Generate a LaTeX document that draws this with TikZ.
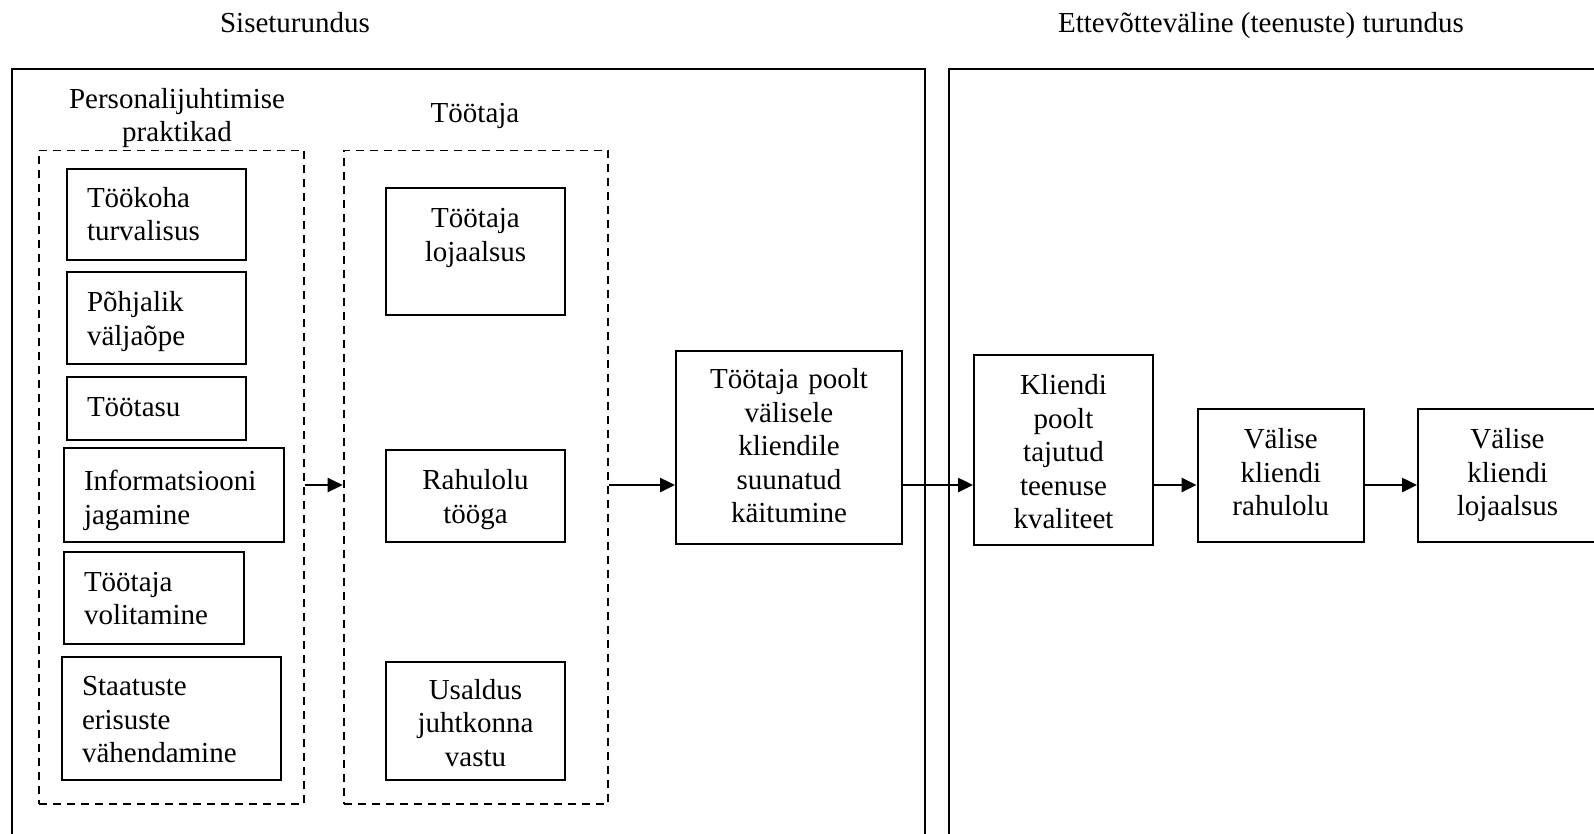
\documentclass[tikz,border=0pt]{standalone}
\usepackage{fontspec}
\setmainfont{Liberation Serif}
\usetikzlibrary{arrows.meta}
\newlength{\tdrop}
\begin{document}
\begin{tikzpicture}[x=1pt,y=-1pt,
  every node/.style={font=\fontsize{29}{33.5}\selectfont},
  drop/.code={\setlength{\tdrop}{#1}},
  drop=8pt,
  % extra room above the first line pushes the text block downward
  topstrut/.style={execute at begin node={\rule{0pt}{\dimexpr\ht\strutbox+\tdrop\relax}},
    execute at end node=\strut},
  box/.style={draw, line width=2pt, align=center, inner sep=0pt, topstrut},
  lbox/.style={draw, line width=2pt, align=left, inner xsep=20pt, inner ysep=0pt, topstrut},
  grp/.style={draw, dash pattern=on 8pt off 6pt, line width=1.8pt, inner sep=0pt},
  frame/.style={line width=2pt},
  arr/.style={line width=2.5pt, -{Triangle[length=15pt,width=14pt]}},
  ttl/.style={align=center, inner sep=0pt}]
\useasboundingbox (0,0) rectangle (1594,833);
\clip (0,0) rectangle (1594,833);

% section frames (open at the bottom)
\draw[frame] (12,845) -- (12,69) -- (925,69) -- (925,845);
\draw[frame] (949,845) -- (949,69) -- (1610,69);

% section titles
\node[ttl, anchor=base] (tin) at (295,32) {Siseturundus};
\node[ttl, anchor=base] (tout) at (1261,32) {Ettevõtteväline (teenuste) turundus};

% group titles
\node[ttl] (thr) at (177,118) {Personalijuhtimise\\praktikad};
\node[ttl] (temp) at (475,116) {Töötaja};

% dashed groups
\node[grp, minimum width=265.4pt, minimum height=653.5pt] (g1) at (171.3,477.25) {};
\node[grp, minimum width=264.4pt, minimum height=653.5pt] (g2) at (475.8,477.25) {};

% HR practices
\node[lbox, drop=6pt, minimum width=179pt, text width=139pt, minimum height=91pt] (p1) at (156.5,214.5) {Töökoha\\turvalisus};
\node[lbox, drop=8pt, minimum width=179pt, text width=139pt, minimum height=92pt] (p2) at (156.5,318) {Põhjalik\\väljaõpe};
\node[lbox, drop=2pt, minimum width=179pt, text width=139pt, minimum height=63pt] (p3) at (156.5,408.5) {Töötasu};
\node[lbox, drop=12pt, minimum width=219.6pt, text width=179.6pt, minimum height=94pt] (p4) at (173.8,495) {Informatsiooni\\jagamine};
\node[lbox, drop=7pt, minimum width=180pt, text width=140pt, minimum height=92.5pt] (p5) at (154,598) {Töötaja\\volitamine};
\node[lbox, drop=8pt, minimum width=218.6pt, text width=178.6pt, minimum height=123pt] (p6) at (171.3,718.5) {Staatuste\\erisuste\\vähendamine};

% employee outcomes
\node[box, drop=6pt, text width=179pt, minimum height=127pt] (e1) at (475.5,251.5) {Töötaja\\lojaalsus\\\mbox{}};
\node[box, drop=8pt, text width=179pt, minimum height=92pt] (e2) at (475.5,496) {Rahulolu\\tööga};
\node[box, drop=10pt, text width=179pt, minimum height=118pt] (e3) at (475.5,721) {Usaldus\\juhtkonna\\vastu};

% behaviour and customer chain
\node[box, drop=3pt, text width=226pt, minimum height=193pt] (beh) at (789,447.5) {Töötaja poolt\\välisele\\kliendile\\suunatud\\käitumine};
\node[box, drop=10pt, text width=179pt, minimum height=190pt] (kval) at (1063.5,450) {Kliendi\\poolt\\tajutud\\teenuse\\kvaliteet};
\node[box, drop=0pt, text width=166.4pt, minimum height=133pt] (rah) at (1280.8,475.5) {Välise\\kliendi\\rahulolu};
\node[box, drop=0pt, text width=179pt, minimum height=133pt] (loj) at (1507.5,475.5) {Välise\\kliendi\\lojaalsus};

% connectors
\coordinate (ay) at (0,485);
\draw[arr] (g1.east |- ay) -- (g2.west |- ay);
\draw[arr] (g2.east |- ay) -- (beh.west |- ay);
\draw[arr] (beh.east |- ay) -- (kval.west |- ay);
\draw[arr] (kval.east |- ay) -- (rah.west |- ay);
\draw[arr] (rah.east |- ay) -- (loj.west |- ay);
\end{tikzpicture}
\end{document}
